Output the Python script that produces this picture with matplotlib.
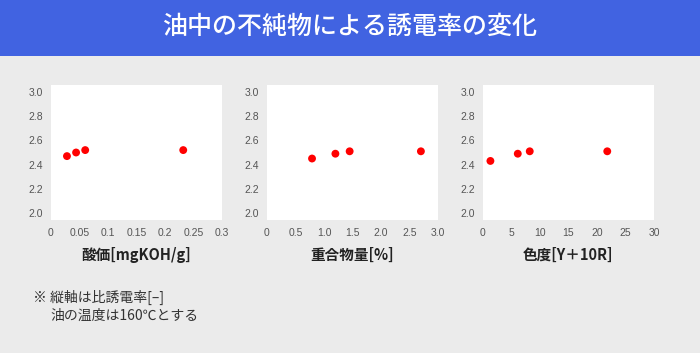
import matplotlib
matplotlib.use("Agg")
import matplotlib.pyplot as plt
from matplotlib.patches import Rectangle

plt.rcParams['font.family'] = ['Noto Sans CJK JP', 'DejaVu Sans']

title = "油中の不純物による誘電率の変化"
xlabels = ["酸価[mgKOH/g]", "重合物量[%]", "色度[Y＋10R]"]

acid_x = [0.028, 0.044, 0.060, 0.232]
acid_y = [2.47, 2.50, 2.52, 2.52]
poly_x = [0.79, 1.20, 1.45, 2.70]
poly_y = [2.45, 2.49, 2.51, 2.51]
color_x = [1.3, 6.1, 8.2, 21.8]
color_y = [2.43, 2.49, 2.51, 2.51]

xticks_list = [
    [0, 0.05, 0.1, 0.15, 0.2, 0.25, 0.3],
    [0, 0.5, 1.0, 1.5, 2.0, 2.5, 3.0],
    [0, 5, 10, 15, 20, 25, 30],
]
xticklabels_list = [
    ["0", "0.05", "0.1", "0.15", "0.2", "0.25", "0.3"],
    ["0", "0.5", "1.0", "1.5", "2.0", "2.5", "3.0"],
    ["0", "5", "10", "15", "20", "25", "30"],
]
yticks = [2.0, 2.2, 2.4, 2.6, 2.8, 3.0]
yticklabels = ["2.0", "2.2", "2.4", "2.6", "2.8", "3.0"]

notes = ["※ 縦軸は比誘電率[–]", "油の温度は160℃とする"]

W, H = 700, 353
fig = plt.figure(figsize=(W / 100, H / 100), dpi=100)
fig.patch.set_facecolor('#EBEBEB')

# title band
fig.patches.append(Rectangle((0, 1 - 56 / H), 1, 56 / H, transform=fig.transFigure,
                             facecolor='#4163E1', edgecolor='none', zorder=0))
fig.text(0.5, 1 - 27 / H, title, color='white', fontsize=18, fontweight='medium',
         ha='center', va='center')

lefts = [51, 267, 483]
width = 171
top, bottom = 85, 220
datasets = [(acid_x, acid_y), (poly_x, poly_y), (color_x, color_y)]
xlims = [(0, 0.3), (0, 3.0), (0, 30)]

for i, (xs, ys) in enumerate(datasets):
    ax = fig.add_axes([lefts[i] / W, 1 - bottom / H, width / W, (bottom - top) / H])
    ax.set_facecolor('white')
    ax.scatter(xs, ys, s=32, color='#FF0000', edgecolors='none', zorder=3)
    ax.set_xlim(*xlims[i])
    ax.set_ylim(1.94, 3.06)
    ax.set_xticks(xticks_list[i])
    ax.set_xticklabels(xticklabels_list[i], family=['Liberation Sans', 'DejaVu Sans'])
    ax.set_yticks(yticks)
    ax.set_yticklabels(yticklabels, family=['Liberation Sans', 'DejaVu Sans'])
    ax.tick_params(length=0, labelsize=7.5, labelcolor='#555555', pad=6)
    for s in ax.spines.values():
        s.set_visible(False)
    ax.set_xlabel(xlabels[i], fontsize=10.5, fontweight='bold', color='#222222', labelpad=6)

fig.text(33 / W, 1 - 297 / H, notes[0], fontsize=10, color='#333333', va='center', ha='left')
fig.text(50 / W, 1 - 316 / H, notes[1], fontsize=10, color='#333333', va='center', ha='left')

fig.savefig('out.png', dpi=100, facecolor=fig.get_facecolor())
